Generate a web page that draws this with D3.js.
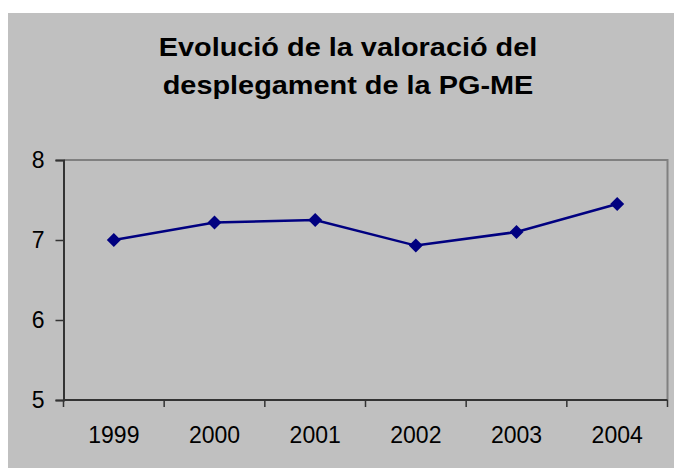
<!DOCTYPE html>
<html>
<head>
<meta charset="utf-8">
<script src="https://cdn.jsdelivr.net/npm/d3@7"></script>
<style>
  html, body { margin: 0; padding: 0; background: #ffffff; }
  svg { display: block; }
  text { font-family: "Liberation Sans", Arial, sans-serif; fill: #000; }
</style>
</head>
<body>
<svg id="chart" width="674" height="468"></svg>
<script>
const titleLines = ["Evolució de la valoració del", "desplegament de la PG-ME"];
const years = ["1999", "2000", "2001", "2002", "2003", "2004"];
const values = [7.0, 7.22, 7.25, 6.93, 7.1, 7.45];
const yTicks = [5, 6, 7, 8];

const svg = d3.select("#chart");
const W = 674, H = 468;
const FONT = "'Liberation Sans', Arial, sans-serif";

// chart area background
svg.append("rect")
  .attr("x", 8).attr("y", 13)
  .attr("width", W - 8).attr("height", H - 13)
  .attr("fill", "#c0c0c0");

// title (slightly widened bold face)
const titleCx = 348, sx = 1.09;
const title = svg.append("g")
  .attr("transform", `translate(${titleCx},0) scale(${sx},1)`)
  .append("text")
  .attr("text-anchor", "middle")
  .attr("font-size", 26.5)
  .attr("font-weight", "bold");
titleLines.forEach((t, i) => {
  title.append("tspan").attr("x", 0).attr("y", 56 + i * 38).text(t);
});

const plot = { left: 63.5, right: 667.5, top: 160, bottom: 400 };

const x = d3.scaleBand().domain(years).range([plot.left, plot.right]);
const y = d3.scaleLinear().domain([5, 8]).range([plot.bottom, plot.top]);

// plot frame (top and right edges)
svg.append("path")
  .attr("d", `M${plot.left},${plot.top}H${plot.right}V${plot.bottom}`)
  .attr("fill", "none").attr("stroke", "#808080").attr("stroke-width", 2);

// y axis
const yAxis = svg.append("g")
  .attr("transform", `translate(${plot.left},0)`)
  .call(d3.axisLeft(y).tickValues(yTicks).tickFormat(d3.format("d")).tickSize(8).tickPadding(11));
yAxis.select(".domain").attr("stroke", "#333").attr("stroke-width", 2);
yAxis.selectAll(".tick line").attr("stroke", "#333").attr("stroke-width", 1.5);
yAxis.selectAll(".tick text")
  .attr("font-size", 23)
  .attr("font-family", FONT)
  .attr("fill", "#000");

// x axis, labels centred in each category, ticks on category boundaries
const xAxis = svg.append("g")
  .attr("transform", `translate(0,${plot.bottom})`)
  .call(d3.axisBottom(x).tickSize(0).tickPadding(26.7));
xAxis.select(".domain").remove();
xAxis.selectAll(".tick text")
  .attr("font-size", 23)
  .attr("font-family", FONT)
  .attr("fill", "#000");
svg.append("line")
  .attr("x1", plot.left).attr("x2", plot.right)
  .attr("y1", plot.bottom).attr("y2", plot.bottom)
  .attr("stroke", "#333").attr("stroke-width", 2);
const bounds = years.map(d => x(d)).concat([x(years[years.length - 1]) + x.bandwidth()]);
svg.append("g").selectAll("line").data(bounds).join("line")
  .attr("x1", d => d).attr("x2", d => d)
  .attr("y1", plot.bottom).attr("y2", plot.bottom + 7)
  .attr("stroke", "#333").attr("stroke-width", 1.5);

// series line
const cx = (d, i) => x(years[i]) + x.bandwidth() / 2;
svg.append("path")
  .datum(values)
  .attr("d", d3.line().x(cx).y(d => y(d)))
  .attr("fill", "none").attr("stroke", "#000080").attr("stroke-width", 2.5);

// diamond markers
const r = 7;
svg.append("g").selectAll("path").data(values).join("path")
  .attr("d", (d, i) => {
    const px = cx(d, i), py = y(d);
    return `M${px},${py - r}L${px + r},${py}L${px},${py + r}L${px - r},${py}Z`;
  })
  .attr("fill", "#000080");
</script>
</body>
</html>
